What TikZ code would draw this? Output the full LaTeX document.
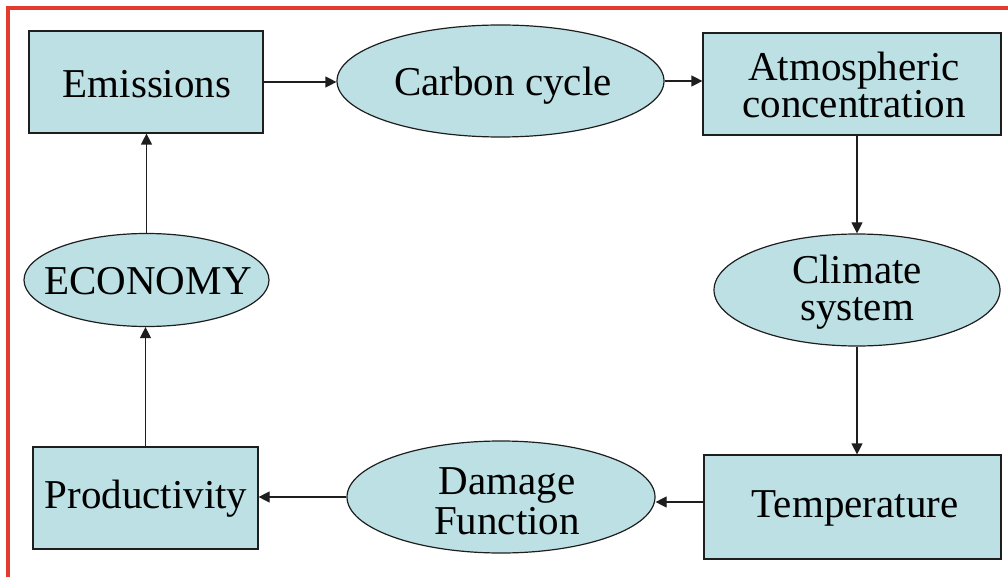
\documentclass[tikz,border=0pt]{standalone}
\usepackage{fontspec}
\setmainfont{Liberation Serif}
\usetikzlibrary{shapes.geometric,arrows.meta}
\definecolor{boxfill}{RGB}{188,224,228}
\definecolor{frame}{RGB}{229,58,46}
\definecolor{edge}{RGB}{30,30,30}
\begin{document}
\begin{tikzpicture}[x=1pt,y=-1pt,
  txt/.style={font=\fontsize{41}{37}\selectfont, align=center, text=black, inner sep=0pt},
  box/.style={rectangle, draw=edge, line width=1.2pt, fill=boxfill, inner sep=0pt},
  oval/.style={ellipse, draw=edge, line width=1.2pt, fill=boxfill, inner sep=0pt},
  arr/.style={-{Triangle[length=11pt,width=11pt]}, line width=1.2pt, draw=edge}]
\useasboundingbox (0,0) rectangle (1008,577);
\draw[frame, line width=4pt] (8,579) -- (8,8) -- (1010,8);

\node[box, minimum width=234pt, minimum height=102pt] (emis) at (146,82) {};
\node[txt] (emisT) at (147,84) {Emissions};
\node[oval, minimum width=327pt, minimum height=112pt] (carb) at (500.5,81) {};
\node[txt] (carbT) at (503,86) {Carbon cycle};
\node[box, minimum width=298pt, minimum height=102pt] (atm) at (852,84) {};
\node[txt] (atmT) at (854,85) {Atmospheric\\concentration};
\node[oval, minimum width=286pt, minimum height=112pt] (clim) at (857,290) {};
\node[txt] (climT) at (857,292) {Climate\\system};
\node[box, minimum width=297pt, minimum height=104pt] (temp) at (852.5,507) {};
\node[txt] (tempT) at (855,508) {Temperature};
\node[oval, minimum width=308pt, minimum height=112pt] (dam) at (501,497) {};
\node[txt, font=\fontsize{41}{40}\selectfont] (damT) at (507,501) {Damage\\Function};
\node[box, minimum width=225pt, minimum height=102pt] (prod) at (145.5,498) {};
\node[txt] (prodT) at (146,499) {Productivity};
\node[oval, minimum width=245pt, minimum height=93pt] (econ) at (146.5,280) {};
\node[txt] (econT) at (148,281) {ECONOMY};

\draw[arr] (emis.east) -- (emis.east -| carb.west);
\draw[arr] (carb.east) -- (carb.east -| atm.west);
\draw[arr] (atm.south -| clim.north) -- (clim.north);
\draw[arr] (clim.south) -- (clim.south |- temp.north);
\coordinate (tw) at ([yshift=5pt]temp.west);
\draw[arr] (tw) -- (tw -| dam.east);
\draw[arr] (dam.west) -- (dam.west -| prod.east);
\draw[arr] (prod.north) -- (prod.north |- econ.south);
\draw[arr] (econ.north) -- (econ.north |- emis.south);
\end{tikzpicture}
\end{document}
